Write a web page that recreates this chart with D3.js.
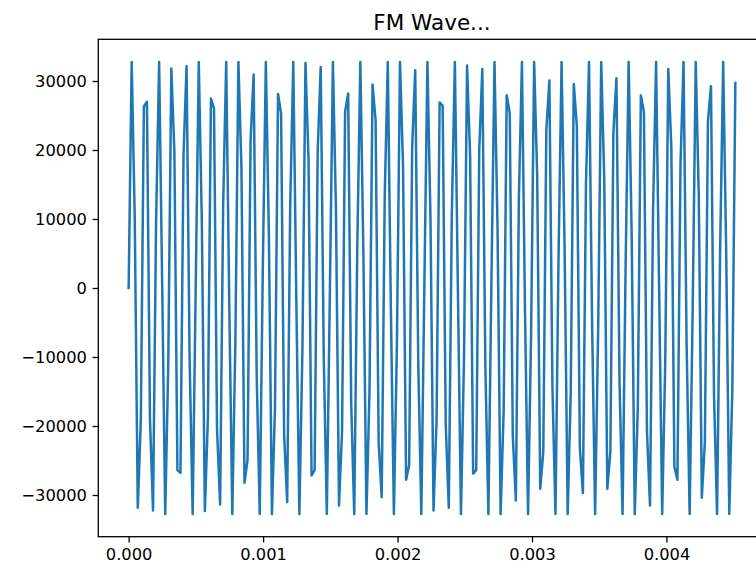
<!DOCTYPE html>
<html>
<head>
<meta charset="utf-8">
<script src="https://cdn.jsdelivr.net/npm/d3@7"></script>
<style>
  html, body { margin: 0; padding: 0; background: #fff; }
  #chart { width: 756px; height: 569px; overflow: hidden; }
  .tick text { font-family: "DejaVu Sans", sans-serif; font-size: 16.3px; fill: #000; }
  .chart-title { font-family: "DejaVu Sans", sans-serif; font-size: 21.5px; fill: #000; }
  .wave-line { fill: none; stroke: #1f77b4; stroke-width: 2.5px; stroke-linejoin: round; stroke-linecap: square; }
</style>
</head>
<body>
<div id="chart"></div>
<script>
// --- FM wave: 200 int16 samples at 44.1 kHz ---

const sampleRate = 44100;
const titleText = 'FM Wave...';

const waveSamples = [
  0, 32767, 10200, -31850, -19070, 26300, 27000, -19020, -32250, 9600,
  32767, 600, -32767, -10850, 31800, 19850, -26400, -26800, 19280, 32150,
  -10200, -32767, 250, 32767, 9850, -32330, -18840, 27460, 26040, -20540,
  -31380, 11900, 32767, -2100, -32767, -7920, 32767, 17370, -28230, -24900,
  21510, 30940, -12710, -32767, 2600, 32767, 7680, -32767, -17320, 28130,
  25300, -21260, -31030, 12140, 32767, -1730, -32767, -8830, 32600, 18650,
  -27170, -26380, 19700, 32040, -10080, -32767, -740, 32767, 11260, -31520,
  -20720, 25550, 28190, -16780, -32767, 6130, 32767, 4820, -32767, -15000,
  29490, 24300, -22290, -30300, 13360, 32767, -2720, -32767, -7870, 32767,
  17800, -27800, -25650, 20520, 31570, -11030, -32767, 540, 32767, 10020,
  -32250, -19130, 26900, 26400, -19750, -31850, 10730, 32767, -500, -32767,
  -10020, 32250, 19130, -26900, -26400, 20000, 31750, -11260, -32767, 1420,
  32767, 8530, -32767, -17860, 27940, 25300, -21470, -30800, 13010, 32767,
  -3220, -32767, -6770, 32767, 16230, -29100, -23700, 22910, 30070, -14380,
  -32767, 4450, 32767, 5550, -32767, -15170, 29580, 23500, -23230, -29720,
  14950, 32767, -4740, -32767, -5900, 32767, 15730, -29100, -23700, 22630,
  30400, -13500, -32767, 3160, 32767, 7440, -32767, -17390, 27900, 25550,
  -20640, -31520, 11150, 32767, -370, -32767, -10760, 31750, 20310, -25900,
  -27800, 17750, 32767, -7870, -32767, -3090, 32767, 13410, -30400, -22290,
  24100, 29250, -15560, -32767, 5370, 32767, 4940, -32767, -14840, 29700
];

const xTicks = [0, 0.001, 0.002, 0.003, 0.004];
const yTicks = [-30000, -20000, -10000, 0, 10000, 20000, 30000];

// integer labels with a proper minus sign
const yFormat = v => String(v).replace('-', '\u2212');

function initWaveChart(containerId, samples) {
  const svgW = 756, svgH = 569;
  // axes box runs past the right edge of the figure
  const margin = { top: 39.3, left: 98.3 };
  const width = 667.4;
  const height = 497.4;

  const series = samples.map((v, i) => ({ time: i / sampleRate, value: v }));

  const svg = d3.select(`#${containerId}`).append('svg')
    .attr('width', svgW)
    .attr('height', svgH);

  const chartInner = svg.append('g')
    .attr('transform', `translate(${margin.left},${margin.top})`);

  // 5% padding on both axes, like the default autoscale
  const [x0, x1] = d3.extent(series, d => d.time);
  const xPad = (x1 - x0) * 0.05;
  const xScale = d3.scaleLinear().domain([x0 - xPad, x1 + xPad]).range([0, width]);

  const [y0, y1] = d3.extent(series, d => d.value);
  const yPad = (y1 - y0) * 0.05;
  const yScale = d3.scaleLinear().domain([y0 - yPad, y1 + yPad]).range([height, 0]);

  const lineGen = d3.line()
    .x(d => xScale(d.time))
    .y(d => yScale(d.value));

  chartInner.append('path')
    .datum(series)
    .attr('class', 'wave-line')
    .attr('d', lineGen);

  const xAxis = chartInner.append('g')
    .attr('transform', `translate(0,${height})`)
    .call(d3.axisBottom(xScale).tickValues(xTicks).tickFormat(d3.format('.3f'))
      .tickSizeInner(5.7).tickSizeOuter(0).tickPadding(5.7));

  const yAxis = chartInner.append('g')
    .call(d3.axisLeft(yScale).tickValues(yTicks).tickFormat(yFormat)
      .tickSizeInner(5.7).tickSizeOuter(0).tickPadding(5.7));

  [xAxis, yAxis].forEach(g => {
    g.select('.domain').remove();
    g.selectAll('.tick line').attr('stroke', '#000').attr('stroke-width', 1.3);
  });

  // frame
  chartInner.append('rect')
    .attr('x', 0).attr('y', 0)
    .attr('width', width).attr('height', height)
    .attr('fill', 'none')
    .attr('stroke', '#000')
    .attr('stroke-width', 1.3);

  chartInner.append('text')
    .attr('class', 'chart-title')
    .attr('x', width / 2)
    .attr('y', -9.8)
    .attr('text-anchor', 'middle')
    .text(titleText);
}

initWaveChart('chart', waveSamples);
</script>
</body>
</html>
